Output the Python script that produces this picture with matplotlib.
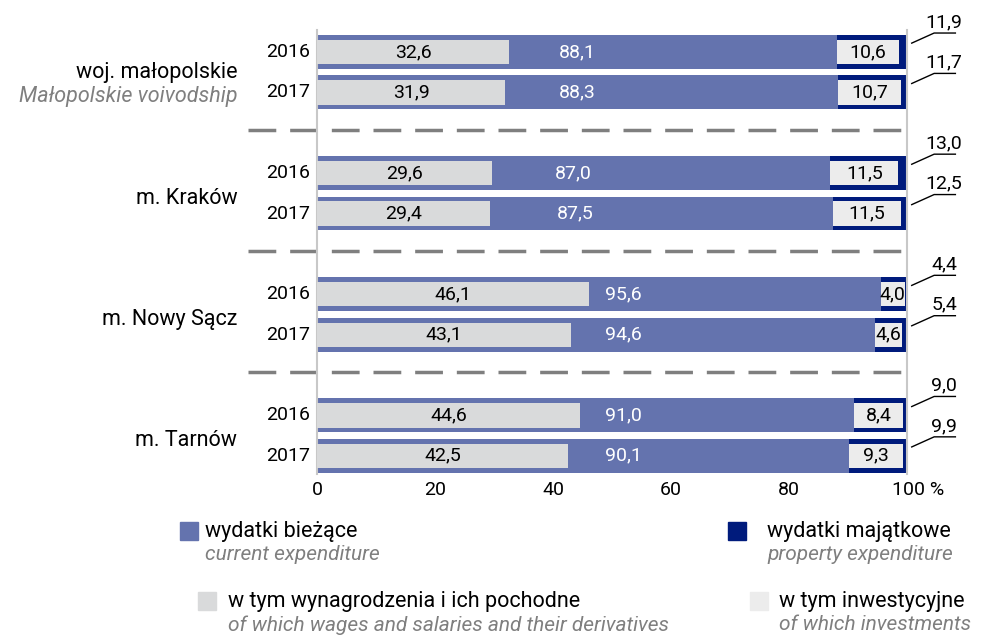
import matplotlib
matplotlib.use('Agg')
import matplotlib.pyplot as plt
from matplotlib.patches import Rectangle

# data
groups    = ['woj. małopolskie', 'm. Kraków', 'm. Nowy Sącz', 'm. Tarnów']
groups_en = ['Małopolskie voivodship', '', '', '']
years     = ['2016', '2017']
current   = [88.1, 88.3, 87.0, 87.5, 95.6, 94.6, 91.0, 90.1]   # wydatki bieżące
wages     = [32.6, 31.9, 29.6, 29.4, 46.1, 43.1, 44.6, 42.5]   # w tym wynagrodzenia
prop      = [11.9, 11.7, 13.0, 12.5, 4.4, 5.4, 9.0, 9.9]       # wydatki majątkowe
invest    = [10.6, 10.7, 11.5, 11.5, 4.0, 4.6, 8.4, 9.3]       # w tym inwestycyjne

C_CUR = '#6473ae'
C_PROP = '#001b7c'
C_WAGE = '#d9dadb'
C_INV = '#ececec'
C_GREY = '#7f7f7f'

plt.rcParams['font.family'] = ['Roboto', 'DejaVu Sans']
FS = 14
FG = 15.5

fig = plt.figure(figsize=(9.83, 6.37), dpi=100)
ax = fig.add_axes([317/983, 1-474/637, 590/983, 444/637])

ypos = []
for g in range(len(groups)):
    for j in range(2):
        ypos.append(g*3 + j)

h = 0.84
hi = 0.6
ax.barh(ypos, current, height=h, color=C_CUR, zorder=2)
ax.barh(ypos, prop, left=current, height=h, color=C_PROP, zorder=2)
ax.barh(ypos, wages, height=hi, color=C_WAGE, zorder=3)
ax.barh(ypos, invest, left=current, height=hi, color=C_INV, zorder=3)

fmt = lambda v: f'{v:.1f}'.replace('.', ',')
for i, y in enumerate(ypos):
    ax.text(wages[i]/2, y, fmt(wages[i]), ha='center', va='center',
            fontsize=FS, color='black', zorder=4)
    xc = current[i]/2
    if xc < wages[i] + 5:
        xc = 52
    ax.text(xc, y, fmt(current[i]), ha='center',
            va='center', fontsize=FS, color='white', zorder=4)
    ax.text(current[i] + invest[i]/2, y, fmt(invest[i]), ha='center',
            va='center', fontsize=FS, color='black', zorder=4)
    # leader line + property label
    ax.plot([100.8, 104.6, 108.2], [y - 0.22, y - 0.47, y - 0.47],
            color='black', lw=1, clip_on=False, zorder=4)
    ax.text(106.3, y - 0.74, fmt(prop[i]), ha='center', va='center',
            fontsize=FS, clip_on=False)
    ax.text(-1.2, y, years[i % 2], ha='right', va='center', fontsize=FS)

for g in range(len(groups)):
    yc = g*3 + 0.5
    if groups_en[g]:
        ax.text(-13.5, yc, groups[g], ha='right', va='center', fontsize=FG)
        ax.text(-13.5, yc + 0.6, groups_en[g], ha='right', va='center',
                fontsize=FG, style='italic', color=C_GREY)
    else:
        ax.text(-13.5, yc + 0.12, groups[g], ha='right', va='center', fontsize=FG)

for yd in [2, 5, 8]:
    ax.plot([-11.7, 100], [yd - 0.07, yd - 0.07], color=C_GREY, lw=2.5,
            dashes=(8, 4), clip_on=False, zorder=1)

ax.set_xlim(0, 100)
ax.set_ylim(10.45, -0.545)
ax.set_yticks([])
ax.set_xticks([0, 20, 40, 60, 80])
ax.set_xticklabels(['0', '20', '40', '60', '80'], fontsize=FS)
ax.tick_params(axis='x', length=0, pad=5)
ax.annotate('100 %', xy=(100, 10.45), xytext=(-11, -5), textcoords='offset points',
            ha='left', va='top', fontsize=FS, annotation_clip=False)
for s in ['top', 'bottom']:
    ax.spines[s].set_visible(False)
for s in ['left', 'right']:
    ax.spines[s].set_color('#c8c8c8')
    ax.spines[s].set_linewidth(1.5)

# legend
W, H = 983, 637
def leg(x, y, color, pl, en, tx):
    fig.patches.append(Rectangle((x/W, 1-(y+9)/H), 18/W, 18/H, color=color,
                                 transform=fig.transFigure, figure=fig))
    fig.text(tx/W, 1-y/H, pl, ha='left', va='center', fontsize=FG)
    fig.text(tx/W, 1-(y+24)/H, en, ha='left', va='center', fontsize=FG - 0.5,
             style='italic', color=C_GREY)

leg(180, 531, C_CUR, 'wydatki bieżące', 'current expenditure', 205)
leg(728, 531, C_PROP, 'wydatki majątkowe', 'property expenditure', 767)
leg(198, 601, C_WAGE, 'w tym wynagrodzenia i ich pochodne',
    'of which wages and salaries and their derivatives', 228)
leg(750, 601, C_INV, 'w tym inwestycyjne', 'of which investments', 779)

fig.savefig('out.png', dpi=100)
